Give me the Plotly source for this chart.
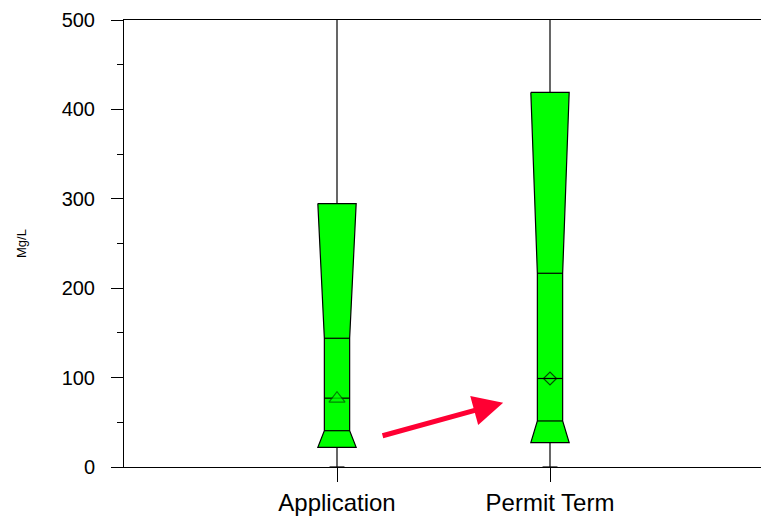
import plotly.graph_objects as go

# ---- data ----
categories = ["Application", "Permit Term"]
box_upper = [294.7, 419.0]      # top of wide part
ci_upper = [144.0, 216.7]       # top of narrow (notch) part
median = [77.0, 99.0]
ci_lower = [40.6, 51.5]         # bottom of narrow part
box_lower = [22.0, 27.2]        # bottom of wide part
mean = [76.5, 99.0]
whisker_low = [0.0, 0.0]
whisker_high = [600.0, 600.0]
mean_symbols = ["triangle-up", "diamond-open"]
y_ticks = [0, 100, 200, 300, 400, 500]

# ---- style ----
W = 0.09    # half width of wide part (x units)
N = 0.0594  # half width of narrow part
CAP = 0.035
GREEN = "#00ff00"
FONT = "Arial, Liberation Sans, sans-serif"

positions = [i + 1 for i in range(len(categories))]

fig = go.Figure()

# whiskers
wx, wy = [], []
for c, lo, hi in zip(positions, whisker_low, whisker_high):
    wx += [c, c, None, c - CAP, c + CAP, None]
    wy += [lo, hi, None, lo, lo, None]
fig.add_trace(go.Scatter(x=wx, y=wy, mode="lines",
                         line=dict(color="black", width=1.2),
                         hoverinfo="skip", showlegend=False))

# box polygons
for c, top, nt, nb, bot in zip(positions, box_upper, ci_upper, ci_lower, box_lower):
    px = [c - W, c + W, c + N, c + N, c + W, c - W, c - N, c - N, c - W]
    py = [top, top, nt, nb, bot, bot, nb, nt, top]
    fig.add_trace(go.Scatter(x=px, y=py, mode="lines", fill="toself",
                             fillcolor=GREEN, line=dict(color="black", width=1.2),
                             hoverinfo="skip", showlegend=False))

# horizontal lines inside narrow part
hx, hy = [], []
for c, nt, md, nb in zip(positions, ci_upper, median, ci_lower):
    for v in (nt, md, nb):
        hx += [c - N, c + N, None]
        hy += [v, v, None]
fig.add_trace(go.Scatter(x=hx, y=hy, mode="lines",
                         line=dict(color="black", width=1.2),
                         hoverinfo="skip", showlegend=False))

# mean markers
fig.add_trace(go.Scatter(x=positions, y=mean, mode="markers",
                         marker=dict(symbol=mean_symbols, size=[14, 10],
                                     color=[GREEN, "black"],
                                     line=dict(color=["#005000", "black"], width=1.2)),
                         hoverinfo="skip", showlegend=False))

# red arrow
fig.add_annotation(x=1.78, y=72, ax=1.207, ay=34.5, xref="x", yref="y",
                   axref="x", ayref="y", showarrow=True, arrowhead=2,
                   arrowsize=1.2, arrowwidth=5, arrowcolor="rgb(255,0,51)", text="")

fig.update_layout(
    width=761, height=516,
    margin=dict(l=124, r=0, t=20, b=49, autoexpand=False),
    paper_bgcolor="white", plot_bgcolor="white",
    font=dict(family=FONT, color="black"),
    showlegend=False,
)
fig.update_xaxes(
    range=[0, 637 / 213], tickvals=positions, ticktext=categories,
    ticks="outside", ticklen=14, tickcolor="black", tickwidth=1,
    showline=True, linecolor="black", linewidth=1, mirror=True,
    showgrid=False, zeroline=False, tickfont=dict(size=24),
    automargin=False,
)
fig.update_yaxes(
    range=[0, 500], tickvals=y_ticks,
    ticks="outside", ticklen=12, tickcolor="black", tickwidth=1,
    minor=dict(dtick=50, ticks="outside", ticklen=6, tickcolor="black", showgrid=False),
    showline=True, linecolor="black", linewidth=1,
    showgrid=False, zeroline=False, tickfont=dict(size=20),
    ticklabelstandoff=12, automargin=False,
    title=dict(text="Mg/L", font=dict(size=13), standoff=32),
)

fig.write_html(
    "out.html",
    config={"displayModeBar": False},
    post_script="document.body.style.margin='0';document.body.style.overflow='hidden';",
)
